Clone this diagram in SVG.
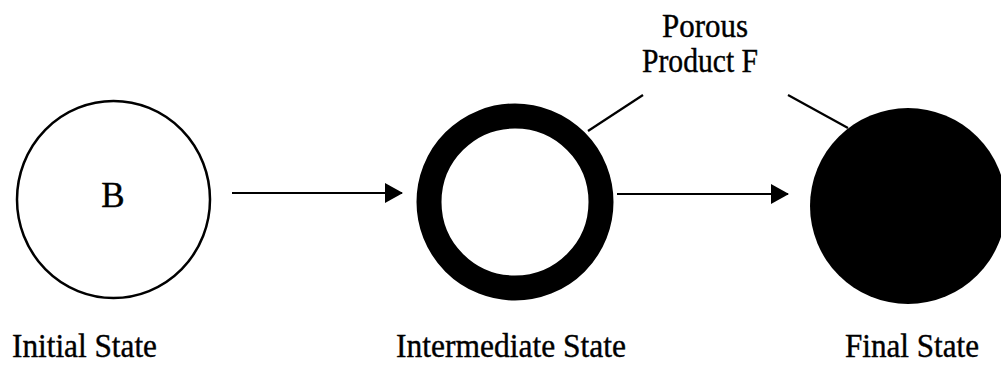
<svg xmlns="http://www.w3.org/2000/svg" width="1001" height="367" viewBox="0 0 1001 367">
<style>
text{font-family:"Liberation Serif","Times New Roman","DejaVu Serif",serif;fill:#000;stroke:#000;stroke-width:0.4}
.lbl{font-size:34px;text-anchor:middle}
.ln{stroke:#000;stroke-width:2.2;fill:none}
</style>
<defs>
<marker id="ah" viewBox="0 0 18 20" refX="17" refY="10" markerWidth="18" markerHeight="20" markerUnits="userSpaceOnUse" orient="auto">
<path d="M0,0 L18,10 L0,20 Z" fill="#000"/>
</marker>
</defs>
<rect width="1001" height="367" fill="#fff"/>
<g id="initial">
<ellipse cx="113.5" cy="199.5" rx="96.5" ry="98.5" fill="#fff" stroke="#000" stroke-width="2.5"/>
<text x="113" y="207" font-size="35" text-anchor="middle">B</text>
<text class="lbl" x="84.5" y="357" textLength="145" lengthAdjust="spacingAndGlyphs">Initial State</text>
</g>
<g id="intermediate">
<circle cx="515" cy="202" r="86" fill="#fff" stroke="#000" stroke-width="25"/>
<text class="lbl" x="511" y="357" textLength="230" lengthAdjust="spacingAndGlyphs">Intermediate State</text>
</g>
<g id="final">
<circle cx="908" cy="206" r="98" fill="#000"/>
<text class="lbl" x="912" y="357" textLength="134" lengthAdjust="spacingAndGlyphs">Final State</text>
</g>
<g id="product-label">
<text x="705" y="37" font-size="33" text-anchor="middle" textLength="86" lengthAdjust="spacingAndGlyphs">Porous</text>
<text x="700" y="72" font-size="33" text-anchor="middle" textLength="116" lengthAdjust="spacingAndGlyphs">Product F</text>
</g>
<g id="connectors">
<line class="ln" x1="232" y1="193" x2="402" y2="193" marker-end="url(#ah)"/>
<line class="ln" x1="617" y1="194" x2="788" y2="194" marker-end="url(#ah)"/>
<line class="ln" x1="643" y1="95" x2="588" y2="131"/>
<line class="ln" x1="788" y1="95" x2="848" y2="128"/>
</g>
</svg>
